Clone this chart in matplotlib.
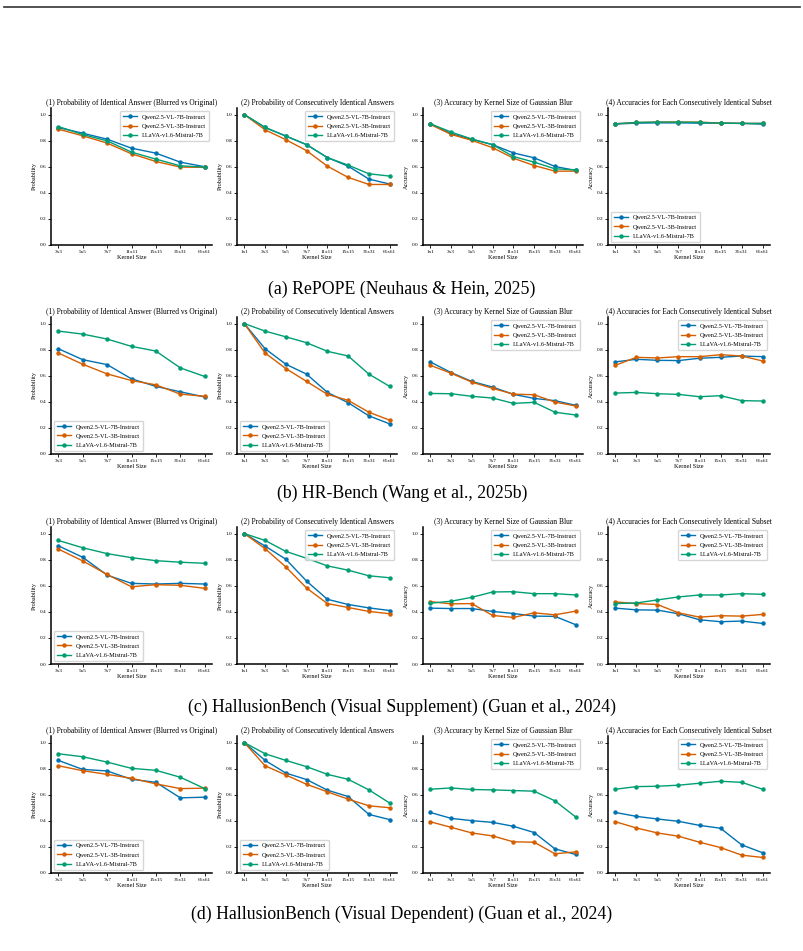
import matplotlib
matplotlib.use("Agg")
import matplotlib.pyplot as plt
from matplotlib.lines import Line2D

plt.rcParams['font.family'] = ['Liberation Serif', 'DejaVu Serif']

models = ['Qwen2.5-VL-7B-Instruct', 'Qwen2.5-VL-3B-Instruct', 'LLaVA-v1.6-Mistral-7B']
colors = ['#0072B2', '#D55E00', '#009E73']

kernels_full = ['1x1', '3x3', '5x5', '7x7', '11x11', '15x15', '31x31', '61x61']
kernels_blur = kernels_full[1:]

titles = ['(1) Probability of Identical Answer (Blurred vs Original)',
          '(2) Probability of Consecutively Identical Answers',
          '(3) Accuracy by Kernel Size of Gaussian Blur',
          '(4) Accuracies for Each Consecutively Identical Subset']
ylabels = ['Probability', 'Probability', 'Accuracy', 'Accuracy']

captions = ['(a) RePOPE (Neuhaus & Hein, 2025)',
            '(b) HR-Bench (Wang et al., 2025b)',
            '(c) HallusionBench (Visual Supplement) (Guan et al., 2024)',
            '(d) HallusionBench (Visual Dependent) (Guan et al., 2024)']

# ---- (a) RePOPE ----
a1 = [[0.900, 0.857, 0.811, 0.742, 0.704, 0.635, 0.600],
      [0.888, 0.837, 0.781, 0.699, 0.640, 0.597, 0.595],
      [0.908, 0.847, 0.798, 0.712, 0.658, 0.607, 0.597]]
a2 = [[1.0, 0.901, 0.835, 0.769, 0.670, 0.604, 0.505, 0.467],
      [1.0, 0.883, 0.807, 0.723, 0.604, 0.518, 0.464, 0.464],
      [1.0, 0.901, 0.835, 0.769, 0.670, 0.612, 0.546, 0.528]]
a3 = [[0.929, 0.853, 0.810, 0.769, 0.706, 0.668, 0.602, 0.571],
      [0.924, 0.848, 0.802, 0.746, 0.665, 0.609, 0.566, 0.566],
      [0.929, 0.866, 0.812, 0.769, 0.678, 0.635, 0.584, 0.576]]
a4 = [[0.927, 0.934, 0.936, 0.936, 0.934, 0.934, 0.932, 0.926],
      [0.929, 0.939, 0.942, 0.942, 0.942, 0.934, 0.932, 0.932],
      [0.929, 0.939, 0.942, 0.942, 0.939, 0.934, 0.932, 0.932]]

# ---- (b) HR-Bench ----
b1 = [[0.807, 0.723, 0.685, 0.576, 0.518, 0.477, 0.437],
      [0.774, 0.688, 0.614, 0.563, 0.530, 0.459, 0.442],
      [0.942, 0.919, 0.881, 0.825, 0.789, 0.660, 0.594]]
b2 = [[1.0, 0.807, 0.688, 0.612, 0.472, 0.393, 0.292, 0.231],
      [1.0, 0.774, 0.655, 0.556, 0.457, 0.411, 0.320, 0.259],
      [1.0, 0.942, 0.898, 0.853, 0.787, 0.751, 0.612, 0.518]]
b3 = [[0.706, 0.624, 0.556, 0.513, 0.457, 0.426, 0.409, 0.373],
      [0.680, 0.619, 0.551, 0.503, 0.459, 0.454, 0.398, 0.368],
      [0.464, 0.462, 0.442, 0.429, 0.388, 0.396, 0.320, 0.299]]
b4 = [[0.706, 0.726, 0.718, 0.716, 0.734, 0.741, 0.751, 0.746],
      [0.680, 0.741, 0.736, 0.746, 0.746, 0.761, 0.751, 0.713],
      [0.467, 0.472, 0.462, 0.457, 0.439, 0.447, 0.409, 0.406]]

# ---- (c) HallusionBench (Visual Supplement) ----
c1 = [[0.906, 0.818, 0.681, 0.618, 0.613, 0.618, 0.613],
      [0.881, 0.790, 0.686, 0.592, 0.608, 0.603, 0.580],
      [0.947, 0.891, 0.846, 0.815, 0.792, 0.780, 0.772]]
c2 = [[1.0, 0.904, 0.803, 0.635, 0.496, 0.456, 0.430, 0.410],
      [1.0, 0.884, 0.744, 0.582, 0.463, 0.433, 0.403, 0.385],
      [1.0, 0.947, 0.863, 0.810, 0.752, 0.719, 0.676, 0.661]]
c3 = [[0.428, 0.425, 0.425, 0.403, 0.387, 0.367, 0.365, 0.301],
      [0.478, 0.461, 0.463, 0.372, 0.357, 0.392, 0.377, 0.405],
      [0.466, 0.481, 0.511, 0.552, 0.554, 0.539, 0.539, 0.529]]
c4 = [[0.428, 0.415, 0.413, 0.385, 0.339, 0.324, 0.329, 0.311],
      [0.476, 0.463, 0.456, 0.392, 0.359, 0.370, 0.367, 0.380],
      [0.463, 0.468, 0.491, 0.514, 0.529, 0.529, 0.539, 0.534]]

# ---- (d) HallusionBench (Visual Dependent) ----
d1 = [[0.863, 0.794, 0.782, 0.718, 0.695, 0.576, 0.581],
      [0.822, 0.784, 0.756, 0.726, 0.683, 0.647, 0.650],
      [0.914, 0.891, 0.850, 0.802, 0.787, 0.734, 0.647]]
d2 = [[1.0, 0.863, 0.766, 0.716, 0.635, 0.586, 0.449, 0.409],
      [1.0, 0.822, 0.751, 0.680, 0.622, 0.566, 0.515, 0.500],
      [1.0, 0.914, 0.863, 0.815, 0.756, 0.718, 0.637, 0.536]]
d3 = [[0.464, 0.419, 0.401, 0.388, 0.358, 0.310, 0.185, 0.142],
      [0.393, 0.350, 0.307, 0.284, 0.239, 0.236, 0.147, 0.162],
      [0.642, 0.652, 0.640, 0.637, 0.632, 0.627, 0.553, 0.429]]
d4 = [[0.464, 0.434, 0.414, 0.396, 0.365, 0.343, 0.216, 0.155],
      [0.393, 0.345, 0.307, 0.282, 0.236, 0.195, 0.137, 0.119],
      [0.642, 0.662, 0.665, 0.673, 0.688, 0.703, 0.695, 0.642]]

rows = [[a1, a2, a3, a4], [b1, b2, b3, b4], [c1, c2, c3, c4], [d1, d2, d3, d4]]
legend_locs = [['upper right', 'upper right', 'upper right', 'lower left'],
               ['lower left', 'lower left', 'upper right', 'upper right'],
               ['lower left', 'upper right', 'upper right', 'upper right'],
               ['lower left', 'lower left', 'upper right', 'upper right']]

W, H = 804, 951
fig = plt.figure(figsize=(W / 100, H / 100), dpi=100)

col_x = [(51, 212), (237, 397), (423, 583), (608, 770)]
row_top = [108, 317, 527, 736]
ax_h = 137
caption_y = [289, 493, 707, 914]

for r, row in enumerate(rows):
    for c, data in enumerate(row):
        x0, x1 = col_x[c]
        ax = fig.add_axes([x0 / W, 1 - (row_top[r] + ax_h) / H, (x1 - x0) / W, ax_h / H])
        labels = kernels_blur if c == 0 else kernels_full
        xs = list(range(len(labels)))
        for m, name in enumerate(models):
            ax.plot(xs, data[m], color=colors[m], lw=1.0, marker='o',
                    markersize=2.2, label=name)
        ax.set_ylim(0, 1.05)
        ax.set_yticks([0.0, 0.2, 0.4, 0.6, 0.8, 1.0])
        ax.set_xticks(xs)
        ax.set_xticklabels(labels)
        ax.tick_params(labelsize=3.8, length=2, width=0.6, pad=1.5)
        ax.set_title(titles[c], fontsize=5.45, pad=2.5)
        ax.set_xlabel('Kernel Size', fontsize=4.5, labelpad=1)
        ax.set_ylabel(ylabels[c], fontsize=4.5, labelpad=2)
        for s in ['top', 'right']:
            ax.spines[s].set_visible(False)
        for s in ['left', 'bottom']:
            ax.spines[s].set_linewidth(1.1)
        ax.legend(loc=legend_locs[r][c], fontsize=4.5, frameon=True,
                  handlelength=2.2, borderpad=0.5, labelspacing=0.6,
                  framealpha=0.8, edgecolor='#cccccc')
    fig.text(402 / W, 1 - caption_y[r] / H, captions[r], fontsize=12.8,
             ha='center', va='center')

fig.add_artist(Line2D([4 / W, 800 / W], [1 - 7 / H, 1 - 7 / H], color='#333333', lw=1.2))

fig.savefig('out.png', dpi=100)
